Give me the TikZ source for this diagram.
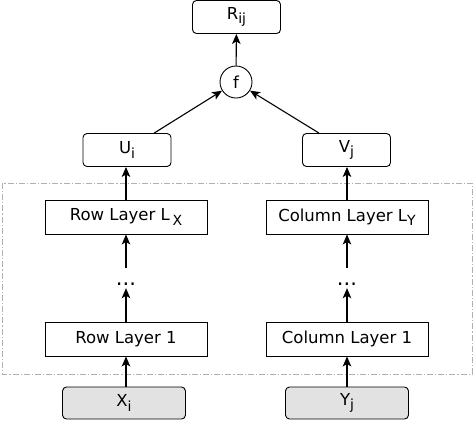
\documentclass[tikz,border=0pt]{standalone}
\usepackage{fontspec}
\setmainfont{DejaVu Sans}
\usetikzlibrary{arrows.meta}
\definecolor{inputgray}{HTML}{E2E2E2}
\definecolor{groupgray}{HTML}{B0B0B0}
\newcommand{\sub}[1]{\raisebox{-0.45ex}{\fontsize{14}{16}\selectfont #1}}
\tikzset{
  every node/.style={font=\fontsize{16.5}{19}\selectfont},
  layerbox/.style={draw=black, line width=0.9pt, fill=white, minimum width=162pt, minimum height=34pt, inner sep=0pt},
  outbox/.style={draw=black, line width=0.9pt, fill=white, rounded corners=4pt, minimum width=88pt, minimum height=33pt, inner sep=0pt},
  inbox/.style={draw=black, line width=0.9pt, fill=inputgray, rounded corners=4pt, minimum width=123pt, minimum height=32pt, inner sep=0pt},
  funcnode/.style={draw=black, line width=0.9pt, fill=white, circle, minimum size=32pt, inner sep=0pt},
  dotsnode/.style={inner sep=0pt, anchor=base, font=\fontsize{21}{22}\selectfont},
  arr/.style={-{Stealth[length=10pt,width=8.5pt,inset=2.5pt]}, line width=1.1pt},
  groupbox/.style={draw=groupgray, line width=1pt, dash pattern=on 6pt off 2pt on 1.2pt off 2pt}
}
\begin{document}
\begin{tikzpicture}[x=1pt,y=-1pt]
\useasboundingbox (0,0) rectangle (473,421);
\draw[groupbox] (2,183) rectangle (472,374);

\node[outbox] (R) at (236.5,17) {R\sub{ij}};
\node[funcnode] (f) at (236,82) {f};
\node[outbox] (U) at (127,150) {U\sub{i}};
\node[outbox] (V) at (346.5,150) {V\sub{j}};

\node[layerbox] (LX) at (126,217) {Row Layer L\,\sub{X}};
\node[layerbox] (LY) at (347,217) {Column Layer L\sub{Y}};

\node[dotsnode] (d1) at (126,285) {...};
\node[dotsnode] (d2) at (347,285) {...};

\node[layerbox] (L1) at (126,339) {Row Layer 1};
\node[layerbox] (C1) at (347,339) {Column Layer 1};

\node[inbox] (X) at (124,403) {X\sub{i}};
\node[inbox] (Y) at (347,403) {Y\sub{j}};

\draw[arr] (X.north -| L1) -- (L1.south);
\draw[arr] (Y.north -| C1) -- (C1.south);
\draw[arr] (L1.north) -- ([yshift=-3pt]d1.south);
\draw[arr] (C1.north) -- ([yshift=-3pt]d2.south);
\draw[arr] ([yshift=14pt]d1.north) -- (LX.south);
\draw[arr] ([yshift=14pt]d2.north) -- (LY.south);
\draw[arr] (LX.north) -- (LX.north |- U.south);
\draw[arr] (LY.north) -- (LY.north |- V.south);
\draw[arr] (U) -- (f);
\draw[arr] (V) -- (f);
\draw[arr] (f) -- (R);
\end{tikzpicture}
\end{document}
